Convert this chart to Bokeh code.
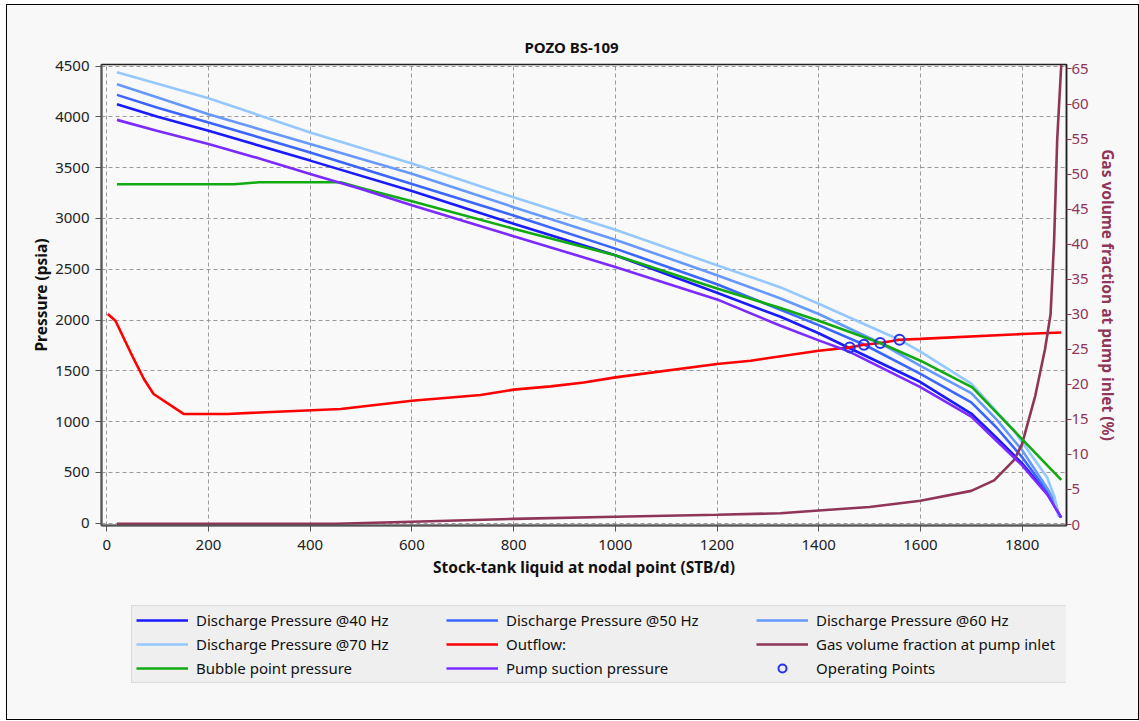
from bokeh.plotting import figure
from bokeh.layouts import column
from bokeh.models import Range1d, LinearAxis, Legend, LegendItem, FixedTicker
from bokeh.embed import file_html
from bokeh.resources import INLINE

# ---------------- data ----------------
q_40 = [20, 100, 200, 400, 600, 800, 1000, 1200, 1325, 1400, 1460, 1600, 1700, 1750, 1800, 1850, 1877]
p_40 = [4124, 4000, 3863, 3569, 3270, 2948, 2637, 2268, 2032, 1870, 1725, 1390, 1080, 840, 590, 290, 55]

q_50 = [20, 100, 200, 400, 600, 800, 1000, 1200, 1325, 1400, 1490, 1600, 1700, 1750, 1800, 1850, 1875]
p_50 = [4216, 4090, 3944, 3650, 3340, 3029, 2703, 2353, 2100, 1950, 1757, 1470, 1190, 940, 650, 310, 60]

q_60 = [20, 100, 200, 400, 600, 800, 1000, 1200, 1325, 1400, 1521, 1600, 1700, 1750, 1800, 1850, 1866, 1873]
p_60 = [4320, 4190, 4026, 3732, 3440, 3111, 2791, 2441, 2212, 2060, 1774, 1550, 1280, 1020, 720, 340, 200, 65]

q_70 = [20, 100, 200, 400, 600, 800, 1000, 1200, 1325, 1400, 1500, 1559, 1600, 1700, 1784, 1849, 1864, 1871]
p_70 = [4438, 4325, 4183, 3846, 3540, 3209, 2889, 2539, 2321, 2160, 1937, 1806, 1690, 1375, 912, 452, 256, 76]

q_out = [2, 17, 53, 73, 92, 151, 237, 460, 600, 735, 800, 873, 938, 1000, 1200, 1266, 1400, 1461, 1489, 1521, 1559, 1600, 1800, 1877]
p_out = [2059, 1993, 1617, 1420, 1272, 1076, 1076, 1125, 1206, 1262, 1315, 1347, 1386, 1436, 1567, 1600, 1698, 1731, 1757, 1774, 1806, 1815, 1862, 1878]

q_gvf = [20, 450, 600, 800, 1000, 1200, 1325, 1400, 1500, 1600, 1700, 1745, 1784, 1800, 1826, 1845, 1856, 1863, 1869, 1877]
g_gvf = [0.1, 0.1, 0.4, 0.8, 1.1, 1.4, 1.6, 2.0, 2.5, 3.4, 4.8, 6.3, 9.2, 11.5, 18.4, 25.0, 30.0, 40.6, 54.9, 65.6]

q_bub = [20, 250, 300, 460, 500, 600, 800, 1000, 1200, 1325, 1400, 1521, 1600, 1702, 1877]
p_bub = [3336, 3336, 3356, 3356, 3300, 3170, 2899, 2637, 2311, 2118, 1993, 1774, 1600, 1338, 427]

q_suc = [20, 100, 200, 300, 400, 500, 600, 800, 1000, 1200, 1325, 1400, 1460, 1600, 1700, 1750, 1800, 1850, 1877]
p_suc = [3970, 3860, 3732, 3590, 3438, 3290, 3130, 2824, 2523, 2203, 1944, 1800, 1690, 1340, 1050, 810, 570, 280, 55]

q_op = [1461, 1489, 1521, 1559]
p_op = [1731, 1757, 1774, 1806]

x_ticks = [0, 200, 400, 600, 800, 1000, 1200, 1400, 1600, 1800]
y_ticks = [0, 500, 1000, 1500, 2000, 2500, 3000, 3500, 4000, 4500]
y2_ticks = list(range(0, 70, 5))

series_labels = ["Discharge Pressure @40 Hz", "Discharge Pressure @50 Hz", "Discharge Pressure @60 Hz",
                 "Discharge Pressure @70 Hz", "Outflow:", "Gas volume fraction at pump inlet",
                 "Bubble point pressure", "Pump suction pressure", "Operating Points"]

# ---------------- styling ----------------
FONT = "Noto Sans"
MAROON = "#8f3558"
BG = "#f8f8f8"
TICK_FS = "15px"
LABEL_FS = "15.5px"
LW = 2.6
C40, C50, C60, C70 = "#1a1aff", "#3a66ff", "#6699ff", "#94c8ff"
COUT, CBUB, CSUC, COP = "#ff0000", "#12aa12", "#7b2bff", "#2233ee"

W = 1131          # page offset 7px left, 5px top (see column margin)
H_MAIN = 592
H_LEG = 122

p = figure(width=W, height=H_MAIN, output_backend="svg", toolbar_location=None,
           x_range=Range1d(-10.4, 1887.3), y_range=Range1d(-22, 4515),
           min_border_left=94, min_border_right=72, min_border_top=59,
           min_border_bottom=H_MAIN - 520,
           background_fill_color="#f9f9f9", border_fill_color=BG,
           title="POZO BS-109")

p.title.align = "left"
p.title.offset = 423
p.title.standoff = 15
p.title.text_font = FONT
p.title.text_font_size = "15px"
p.title.text_font_style = "bold"
p.title.text_color = "#111111"

p.extra_y_ranges = {"gvf": Range1d(-0.14, 65.64)}

p.outline_line_color = "#222222"
p.outline_line_width = 1.5

p.xaxis.ticker = FixedTicker(ticks=x_ticks)
p.yaxis.ticker = FixedTicker(ticks=y_ticks)
p.xaxis.axis_label = "Stock-tank liquid at nodal point (STB/d)"
p.yaxis.axis_label = "Pressure (psia)"

for ax in (p.xaxis[0], p.yaxis[0]):
    ax.axis_line_color = "#555555"
    ax.axis_line_width = 2
    ax.major_tick_line_color = "#555555"
    ax.major_tick_out = 6
    ax.major_tick_in = 0
    ax.minor_tick_out = 0
    ax.minor_tick_in = 0
    ax.major_label_text_font = FONT
    ax.major_label_text_font_size = TICK_FS
    ax.major_label_text_color = "#222222"
    ax.axis_label_text_font = FONT
    ax.axis_label_text_font_size = LABEL_FS
    ax.axis_label_text_font_style = "bold"
    ax.axis_label_text_color = "#111111"
p.xaxis.major_label_standoff = 8
p.xaxis.axis_label_standoff = 3
p.yaxis.major_label_standoff = 6
p.yaxis.axis_label_standoff = 0

ax2 = LinearAxis(y_range_name="gvf", ticker=FixedTicker(ticks=y2_ticks),
                 axis_label="Gas volume fraction at pump inlet (%)")
ax2.axis_line_color = "#222222"
ax2.axis_line_width = 1.5
ax2.major_tick_line_color = MAROON
ax2.major_tick_out = 5
ax2.major_tick_in = 0
ax2.minor_tick_out = 0
ax2.minor_tick_in = 0
ax2.major_label_standoff = 0
ax2.major_label_text_font = FONT
ax2.major_label_text_font_size = TICK_FS
ax2.major_label_text_color = MAROON
ax2.axis_label_text_font = FONT
ax2.axis_label_text_font_size = LABEL_FS
ax2.axis_label_text_font_style = "bold"
ax2.axis_label_text_color = MAROON
ax2.axis_label_standoff = 5
p.add_layout(ax2, "right")

for g in (p.xgrid[0], p.ygrid[0]):
    g.grid_line_color = "#9a9a9a"
    g.grid_line_dash = "4 3"
    g.grid_line_width = 1

p.line(q_40, p_40, line_color=C40, line_width=LW)
p.line(q_50, p_50, line_color=C50, line_width=LW)
p.line(q_60, p_60, line_color=C60, line_width=LW)
p.line(q_70, p_70, line_color=C70, line_width=LW)
p.line(q_out, p_out, line_color=COUT, line_width=LW)
p.line(q_gvf, g_gvf, line_color=MAROON, line_width=LW, y_range_name="gvf")
p.line(q_bub, p_bub, line_color=CBUB, line_width=LW)
p.line(q_suc, p_suc, line_color=CSUC, line_width=LW)
p.scatter(q_op, p_op, marker="circle", size=10, fill_alpha=0, line_color=COP, line_width=2)

# ---------------- legend strip (separate figure below the chart) ----------------
lf = figure(width=W, height=H_LEG, output_backend="svg", toolbar_location=None,
            x_range=Range1d(0, 1), y_range=Range1d(0, 1),
            x_axis_type=None, y_axis_type=None,
            min_border_left=0, min_border_right=0, min_border_top=0, min_border_bottom=0,
            background_fill_color=BG, border_fill_color=BG, outline_line_color=None)
lf.grid.visible = False

# off-range dummy points: only used so that the legend can draw its glyphs
dummy_x = [5, 6]
dummy_y = [5, 6]
line_colors = [C40, C50, C60, C70, COUT, MAROON, CBUB, CSUC]
items = []
for lab, col in zip(series_labels[:8], line_colors):
    r = lf.line(dummy_x, dummy_y, line_color=col, line_width=LW)
    items.append(LegendItem(label=lab, renderers=[r]))
r_op_leg = lf.scatter(dummy_x, dummy_y, marker="circle", size=8, fill_alpha=0,
                      line_color=COP, line_width=2)
items.append(LegendItem(label=series_labels[8], renderers=[r_op_leg]))

legend = Legend(items=items, location=(30, H_LEG - 10 - 76), orientation="horizontal", ncols=3,
                padding=4, spacing=4, glyph_width=52, glyph_height=20, label_height=20,
                label_width=246, label_standoff=8, margin=0,
                label_text_font=FONT, label_text_font_size="15px", label_text_color="#111111",
                background_fill_color="#efefef", background_fill_alpha=1.0,
                border_line_color="#c8c8c8", border_line_width=1)
lf.add_layout(legend)

page = column(p, lf, spacing=0, margin=(5, 0, 0, 7),
              styles={"outline": "1px solid #000000", "background-color": BG})

open("out.html", "w").write(file_html(page, INLINE))
